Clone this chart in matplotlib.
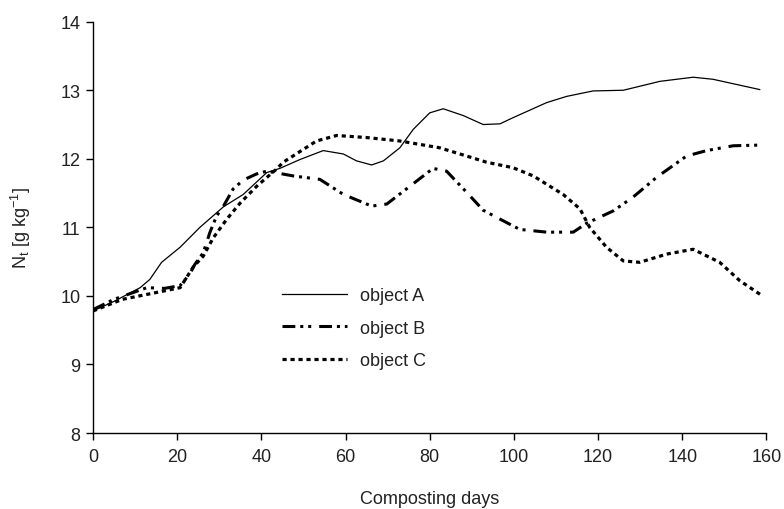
import matplotlib
matplotlib.use("Agg")
import matplotlib.pyplot as plt
import numpy as np

plt.rcParams['font.family'] = ['Liberation Sans', 'DejaVu Sans']
plt.rcParams['mathtext.fontset'] = 'custom'
plt.rcParams['mathtext.rm'] = 'Liberation Sans'

# object A (solid)
days_a = [0, 5, 11.2, 13.5, 16.3, 20.7, 25.4, 31, 35.7, 41.3, 44.4, 49.2, 54.7, 59.5, 62.6,
          66.2, 69, 72.9, 76.1, 80, 83.2, 88, 92.7, 96.7, 99.8, 107.8, 112.5, 118.8,
          126, 134.7, 142.6, 147.3, 158.4]
nt_a = [9.78, 9.92, 10.12, 10.24, 10.49, 10.71, 11.0, 11.30, 11.48, 11.80, 11.86, 11.99, 12.12,
        12.07, 11.97, 11.91, 11.97, 12.16, 12.43, 12.67, 12.73, 12.63, 12.50, 12.51, 12.60,
        12.82, 12.91, 12.99, 13.0, 13.13, 13.19, 13.16, 13.01]

# object B (dash-dot-dot)
days_b = [0, 5, 12.8, 17, 20.7, 23, 24.2, 26.2, 27.8, 29.4, 31, 33.3, 35.7, 38.9, 41.3, 47.6,
          53.9, 59.5, 66.2, 69.8, 75.3, 80.8, 84, 88.8, 92.7, 96.7, 101.4, 107.8, 114.1,
          117.3, 123.6, 128.3, 133.9, 141, 145.8, 152.1, 158.4]
nt_b = [9.80, 9.95, 10.12, 10.11, 10.15, 10.32, 10.46, 10.63, 10.93, 11.17, 11.31, 11.56, 11.69,
        11.78, 11.82, 11.75, 11.70, 11.48, 11.31, 11.34, 11.60, 11.86, 11.82, 11.51, 11.25,
        11.12, 10.97, 10.93, 10.93, 11.06, 11.24, 11.44, 11.73, 12.04, 12.12, 12.19, 12.20]

# object C (dotted)
days_c = [0, 7, 15.1, 20.7, 23.8, 26.2, 28.6, 31.8, 34.9, 38.9, 43.6, 45.2, 53.1, 57.9, 65,
          72.9, 82.4, 88.8, 93.5, 99.8, 104.6, 111.7, 115.7, 118, 122, 126, 129.9, 136.3,
          142.6, 148.9, 153.7, 158.8]
nt_c = [9.78, 9.95, 10.05, 10.12, 10.42, 10.58, 10.85, 11.12, 11.35, 11.60, 11.85, 11.95, 12.26,
        12.34, 12.31, 12.26, 12.16, 12.04, 11.95, 11.87, 11.75, 11.48, 11.27, 11.0, 10.71,
        10.51, 10.49, 10.61, 10.68, 10.49, 10.22, 10.01]

fig = plt.figure(figsize=(7.84, 5.10), dpi=100)
ax = fig.add_axes([0.1186, 0.149, 0.859, 0.8065])

ax.plot(days_a, nt_a, color='black', lw=0.9, label='object A')
ax.plot(days_b, nt_b, color='black', lw=2.2, linestyle=(0, (4.2, 1.6, 1.0, 1.6, 1.0, 2.6)),
        dash_capstyle='butt', label='object B')
ax.plot(days_c, nt_c, color='black', lw=2.3, linestyle=(0, (1.3, 1.2)),
        dash_capstyle='butt', label='object C')

ax.set_xlim(0, 160)
ax.set_ylim(8, 14)
ax.set_xticks(np.arange(0, 161, 20))
ax.set_yticks(np.arange(8, 15, 1))
for s in ['top', 'right']:
    ax.spines[s].set_visible(False)
for s in ['left', 'bottom']:
    ax.spines[s].set_linewidth(1.0)
ax.tick_params(direction='out', length=5, width=1.0, labelsize=13, colors='black',
               labelcolor='#222222')
ax.tick_params(axis='x', pad=6)
ax.tick_params(axis='y', pad=4)

ax.set_xlabel('Composting days', fontsize=13, color='#222222', labelpad=18)
ax.set_ylabel('N$_\\mathregular{t}$ [g kg$^{\\mathregular{\u22121}}$]', fontsize=13,
              color='#222222', labelpad=20)

ax.legend(loc='upper left', bbox_to_anchor=(0.257, 0.394), frameon=False, fontsize=13,
          handlelength=3.6, handletextpad=0.7, labelspacing=0.85, labelcolor='#222222')

fig.savefig('out.png', dpi=100)
